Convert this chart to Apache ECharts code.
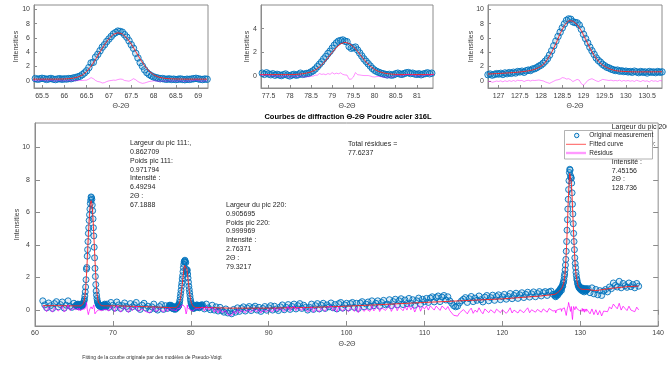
<!DOCTYPE html>
<html><head><meta charset="utf-8">
<script src="https://cdn.jsdelivr.net/npm/echarts@6/dist/echarts.min.js"></script>
<style>html,body{margin:0;padding:0;background:#fff}#c{width:667px;height:367px}</style>
</head><body><div id="c"></div>
<script>
// ---------- DATA ----------
const FINE_STEP = 0.05, FIT_STEP = 0.1, BG_STEP = 0.25;
const P1_X0 = 65.30, P2_X0 = 77.30, P3_X0 = 126.75;
const BG_A_X0 = 61.00, BG_B_X0 = 69.25, BG_C_X0 = 81.50, BG_D_X0 = 131.00;

const peak1Meas = [0.25,0.32,0.22,0.28,0.35,0.30,0.20,0.27,0.33,0.24,
0.18,0.26,0.30,0.22,0.28,0.25,0.32,0.30,0.40,0.45,
0.55,0.65,0.85,1.10,1.40,1.85,2.50,2.60,3.30,3.70,
4.20,4.70,5.05,5.50,5.85,6.20,6.55,6.75,6.95,6.90,
6.80,6.45,6.10,5.60,5.05,4.55,3.85,3.20,2.55,2.05,
1.55,1.15,0.90,0.70,0.55,0.45,0.38,0.30,0.32,0.25,
0.22,0.28,0.20,0.24,0.18,0.22,0.27,0.20,0.16,0.23,
0.20,0.25,0.30,0.35,0.28,0.22,0.18,0.26,0.22];
const peak1Fit = [0.24,0.24,0.24,0.24,0.24,0.24,0.25,0.26,0.30,0.38,
0.52,0.80,1.30,2.05,3.00,4.05,5.05,5.90,6.50,6.72,
6.55,6.00,5.15,4.10,3.05,2.10,1.35,0.85,0.55,0.40,
0.32,0.28,0.26,0.25,0.24,0.24,0.24,0.24,0.24,0.24];
const peak1Res = [0.01,0.08,-0.02,0.04,0.11,0.06,-0.04,0.03,0.09,0.00,
-0.06,0.02,0.05,-0.03,0.02,-0.01,0.04,0.00,0.04,0.02,
0.03,0.05,0.05,0.08,0.10,0.25,0.45,0.30,0.05,-0.10,
-0.15,-0.30,-0.25,-0.10,0.00,0.05,0.10,0.08,0.18,0.25,
0.22,0.05,0.00,-0.05,0.10,0.30,0.15,-0.10,-0.25,-0.35,
-0.30,-0.20,-0.10,-0.05,0.00,-0.02,-0.05,-0.08,0.00,-0.03,
-0.06,0.03,-0.04,0.00,-0.06,-0.02,0.03,-0.04,-0.08,-0.01,
-0.04,0.01,0.06,0.11,0.04,-0.02,-0.06,0.02,-0.02];

const peak2Meas = [0.20,0.25,0.15,0.28,0.18,0.12,0.20,0.08,0.15,0.10,
0.05,0.12,0.18,0.08,0.02,0.10,0.15,0.08,0.12,0.25,
0.15,0.18,0.22,0.25,0.35,0.45,0.60,0.80,1.00,1.20,
1.45,1.65,1.90,2.10,2.35,2.60,2.80,2.95,3.00,3.05,
2.95,2.90,2.50,2.35,2.40,2.45,2.20,1.95,1.70,1.45,
1.25,1.05,0.85,0.65,0.50,0.40,0.32,0.25,0.20,0.15,
0.10,0.15,0.08,0.12,0.20,0.25,0.18,0.15,0.22,0.28,
0.30,0.22,0.25,0.18,0.15,0.20,0.12,0.18,0.22,0.28,
0.20,0.25,0.30];
const peak2Fit = [0.13,0.13,0.13,0.13,0.13,0.13,0.13,0.13,0.14,0.16,
0.20,0.26,0.36,0.52,0.78,1.12,1.55,2.00,2.42,2.73,
2.85,2.76,2.48,2.08,1.63,1.20,0.84,0.57,0.39,0.28,
0.21,0.17,0.15,0.14,0.14,0.14,0.14,0.14,0.14,0.14,
0.14,0.14];
const peak2Res = [0.07,0.12,0.02,0.15,0.05,-0.01,0.07,-0.05,0.02,-0.03,
-0.08,-0.01,0.05,-0.05,-0.11,-0.03,0.01,-0.07,-0.04,0.07,
-0.05,-0.08,-0.04,-0.06,-0.01,0.00,0.08,0.08,0.22,0.15,
0.18,0.12,0.22,0.15,0.30,0.18,0.25,0.20,0.28,0.15,
0.10,0.09,-0.26,-0.25,-0.08,0.30,0.12,0.10,0.07,0.05,
0.05,0.05,0.01,-0.05,-0.07,-0.04,-0.02,-0.05,-0.08,-0.09,
-0.11,-0.05,-0.09,-0.03,0.05,0.11,0.04,0.01,0.08,0.14,
0.16,0.08,0.11,0.04,0.01,0.06,-0.02,0.04,0.08,0.14,
0.06,0.11,0.16];

const peak3Meas = [0.85,0.95,0.80,0.90,1.00,0.95,1.05,0.90,1.10,1.00,
1.15,1.05,1.20,1.10,1.30,1.25,1.35,1.20,1.40,1.50,
1.45,1.65,1.70,1.85,2.05,2.20,2.45,2.75,3.10,3.60,
4.20,4.90,5.55,6.20,6.80,7.40,7.95,8.45,8.65,8.60,
8.25,8.15,8.10,7.80,7.20,6.50,5.90,5.30,4.70,4.20,
3.70,3.20,2.85,2.60,2.30,2.10,1.90,1.80,1.65,1.55,
1.45,1.50,1.35,1.40,1.30,1.35,1.25,1.30,1.20,1.35,
1.25,1.15,1.30,1.20,1.25,1.10,1.30,1.20,1.25,1.15,
1.30,1.20,1.25];
const peak3Fit = [0.95,0.98,1.01,1.04,1.08,1.12,1.16,1.21,1.27,1.35,
1.45,1.60,1.85,2.25,3.00,4.00,5.20,6.60,7.75,8.40,
8.35,7.85,7.00,5.80,4.60,3.55,2.75,2.20,1.85,1.60,
1.43,1.36,1.31,1.28,1.26,1.25,1.25,1.25,1.25,1.26,
1.26,1.27];
const peak3Res = [-0.10,-0.05,-0.20,-0.12,-0.03,-0.08,0.00,-0.14,0.02,-0.10,
0.03,-0.07,0.04,-0.06,0.09,0.02,0.06,-0.10,0.03,0.08,
-0.02,0.08,0.05,0.08,0.12,0.05,0.00,-0.15,-0.25,-0.35,
-0.20,-0.05,0.10,0.15,0.25,0.45,0.40,0.25,0.30,0.15,
-0.10,0.05,0.20,0.10,-0.40,-0.60,-0.30,0.05,0.20,0.30,
0.15,0.00,-0.10,0.05,0.20,0.15,0.10,0.05,0.10,0.00,
0.05,0.00,0.10,-0.05,0.05,-0.03,0.05,-0.05,0.02,-0.08,
0.08,-0.02,-0.10,0.05,-0.06,0.00,-0.15,0.05,-0.05,0.00,
-0.10,0.05,-0.02];

const bgAMeas = [0.55,0.30,0.12,0.42,0.25,0.08,0.38,0.50,0.18,0.32,0.48,0.10,0.28,0.55,0.22,0.15,0.40,0.25];
const bgARes  = [0.25,0.02,-0.12,0.15,-0.02,-0.15,0.12,0.22,-0.08,0.05,0.20,-0.14,0.00,0.28,-0.05,-0.10,0.13,-0.02];
const bgBMeas = [0.35,0.15,0.45,0.28,0.10,0.48,0.30,0.08,0.25,0.42,
0.20,0.05,0.38,0.18,0.30,0.45,0.12,0.02,0.28,0.40,
0.10,0.22,0.00,0.18,0.35,0.05,-0.02,0.20,0.32,0.02,
0.25,0.08,0.28];
const bgBRes = [0.10,-0.08,0.20,0.05,-0.12,0.24,0.06,-0.15,0.02,0.18,
-0.03,-0.17,0.15,-0.05,0.08,0.22,-0.10,-0.20,0.06,0.18,
-0.12,0.00,-0.20,-0.02,0.15,-0.12,-0.18,0.04,0.16,-0.14,
0.08,-0.10,0.12];
const bgCMeas = [0.30,0.05,0.35,0.12,0.00,0.28,-0.02,0.18,-0.08,0.15,-0.05,-0.15,0.05,-0.20,-0.08,
-0.25,0.02,-0.15,0.12,-0.10,0.08,0.18,-0.08,0.10,0.20,-0.05,0.12,0.22,-0.02,0.15,-0.10,0.08,0.20,-0.03,0.12,
0.25,-0.02,0.22,0.05,-0.05,0.18,0.30,0.00,0.15,0.32,0.02,0.20,0.35,0.05,0.25,0.38,0.08,0.28,0.15,-0.02,
0.15,0.35,0.02,0.25,0.38,0.05,0.28,0.40,0.08,0.30,0.18,0.42,0.12,0.32,0.05,0.38,0.45,0.10,0.30,0.40,
0.12,0.38,0.45,0.15,0.40,0.08,0.42,0.50,0.18,0.35,0.48,0.20,0.55,0.25,0.40,0.55,0.22,0.45,0.58,0.30,
0.35,0.62,0.25,0.50,0.65,0.30,0.55,0.68,0.32,0.60,0.38,0.70,0.40,0.62,0.28,0.55,0.72,0.35,0.65,0.50,
0.70,0.45,0.72,0.80,0.48,0.75,0.85,0.50,0.78,0.88,0.60,0.80,0.55,0.40,0.25,0.18,0.22,0.42,0.55,0.65,
0.75,0.45,0.68,0.82,0.50,0.72,0.58,0.85,0.62,0.48,0.78,0.88,0.55,0.75,0.90,0.58,0.82,0.92,0.62,0.80,
0.95,0.65,0.82,1.00,0.68,0.88,1.02,0.70,0.92,1.05,0.75,0.95,1.08,0.78,0.98,1.10,0.80,1.00,1.12,0.85,
1.05,1.12,0.88,1.10,1.15,0.95];
const bgCRes = [0.17,-0.08,0.22,-0.01,-0.13,0.15,-0.14,0.06,-0.20,0.04,-0.16,-0.25,-0.05,-0.30,-0.18,
-0.35,-0.08,-0.25,0.02,-0.20,-0.02,0.08,-0.18,0.00,0.10,-0.15,0.02,0.12,-0.12,0.05,-0.20,-0.02,0.10,-0.13,0.02,
0.14,-0.13,0.11,-0.06,-0.16,0.07,0.19,-0.11,0.04,0.21,-0.09,0.09,0.24,-0.06,0.14,0.26,-0.04,0.16,0.03,-0.14,
-0.01,0.18,-0.15,0.08,0.20,-0.13,0.10,0.22,-0.10,0.12,0.00,0.24,-0.06,0.13,-0.14,0.18,0.25,-0.10,0.10,0.18,
-0.12,0.14,0.20,-0.10,0.14,-0.18,0.15,0.22,-0.10,0.06,0.18,-0.10,0.24,-0.07,0.08,0.22,-0.11,0.12,0.24,-0.04,
0.01,0.27,-0.10,0.15,0.29,-0.06,0.18,0.30,-0.06,0.21,-0.02,0.30,0.00,0.21,-0.14,0.13,0.29,-0.09,0.20,0.05,
0.24,-0.02,0.24,0.31,-0.02,0.23,0.32,-0.04,0.23,0.32,0.01,0.20,-0.05,-0.20,-0.34,-0.42,-0.39,-0.20,-0.08,0.01,
0.05,-0.25,-0.05,0.10,-0.22,-0.02,-0.15,0.12,-0.10,-0.25,0.05,0.12,-0.18,0.00,0.12,-0.20,0.04,0.12,-0.18,0.00,
0.08,-0.22,-0.08,0.12,-0.20,-0.02,0.10,-0.20,0.00,0.10,-0.18,-0.02,0.12,-0.18,0.00,0.12,-0.15,0.02,0.12,-0.15,
0.05,0.10,-0.15,0.08,0.12,-0.08];
const bgDMeas = [1.30,1.05,1.35,0.98,1.25,0.92,1.18,0.88,1.15,1.25,
1.10,1.40,1.30,1.65,1.50,1.40,1.75,1.35,1.62,1.48,
1.38,1.65,1.42,1.55,1.35,1.62,1.45];
const bgDRes = [-0.05,-0.25,0.05,-0.30,0.00,-0.32,-0.05,-0.38,-0.08,0.02,
-0.12,0.18,0.05,0.35,0.20,0.06,0.40,-0.02,0.22,0.08,
-0.05,0.22,-0.02,0.10,-0.12,0.16,-0.01];

const fitKnotX = [61, 63, 64.5, 70, 72, 74, 76, 82.5, 85, 90, 95, 100, 105, 110, 115, 120, 125, 132, 134, 136, 137.5];
const fitKnotY = [0.25,0.25,0.24,0.24,0.22,0.19,0.16,0.13,0.10,0.10,0.14,0.22,0.33,0.45,0.56,0.67,0.85,1.18,1.32,1.42,1.46];

const mainXTicks = [60,70,80,90,100,110,120,130,140];
const mainYTicks = [0,2,4,6,8,10];
const sub1XTicks = [65.5,66,66.5,67,67.5,68,68.5,69];
const sub2XTicks = [77.5,78,78.5,79,79.5,80,80.5,81];
const sub3XTicks = [127,127.5,128,128.5,129,129.5,130,130.5];
const sub13YTicks = [0,2,4,6,8,10];
const sub2YTicks = [0,2,4];

const titleText = 'Courbes de diffraction \u0398-2\u0398 Poudre acier 316L';
const xName = '\u0398-2\u0398';
const yName = 'Intensities';
const footerText = 'Fitting de la courbe originale par des modèles de Pseudo-Voigt';
const ann111 = ['Largeur du pic 111:,','0.862709','Poids pic 111:','0.971794','Intensité :','6.49294','2\u0398 :','67.1888'];
const ann220 = ['Largeur du pic 220:','0.905695','Poids pic 220:','0.999969','Intensité :','2.76371','2\u0398 :','79.3217'];
const annRes = ['Total résidues =','77.6237'];
const ann200 = ['Largeur du pic 200:','','Poids pic 200:','','Intensité :','7.45156','2\u0398 :','128.736'];
const legendNames = ['Original measurement','Fitted curve','Résidus'];

// ---------- BUILD ----------
function seg(x0, step, vals){ return vals.map((v,i)=>[Math.round((x0+i*step)*1000)/1000, v]); }
const p1M = seg(P1_X0,FINE_STEP,peak1Meas), p1F = seg(P1_X0,FIT_STEP,peak1Fit), p1R = seg(P1_X0,FINE_STEP,peak1Res);
const p2M = seg(P2_X0,FINE_STEP,peak2Meas), p2F = seg(P2_X0,FIT_STEP,peak2Fit), p2R = seg(P2_X0,FINE_STEP,peak2Res);
const p3M = seg(P3_X0,FINE_STEP,peak3Meas), p3F = seg(P3_X0,FIT_STEP,peak3Fit), p3R = seg(P3_X0,FINE_STEP,peak3Res);
const mainMeas = [].concat(seg(BG_A_X0,BG_STEP,bgAMeas), p1M, seg(BG_B_X0,BG_STEP,bgBMeas), p2M, seg(BG_C_X0,BG_STEP,bgCMeas), p3M, seg(BG_D_X0,BG_STEP,bgDMeas));
const mainRes = [].concat(seg(BG_A_X0,BG_STEP,bgARes), p1R, seg(BG_B_X0,BG_STEP,bgBRes), p2R, seg(BG_C_X0,BG_STEP,bgCRes), p3R, seg(BG_D_X0,BG_STEP,bgDRes));
const mainFit = fitKnotX.map((x,i)=>[x,fitKnotY[i]]).concat(p1F,p2F,p3F).sort((a,b)=>a[0]-b[0]);

const FF = '"Liberation Sans", Arial, Helvetica, sans-serif';
const AX = '#8c8c8c';
const LBL = '#404040';
const BLUE = '#0072BD';

function axis(gi, min, max, ticks, margin, tl){
  return {type:'value', gridIndex:gi, min, max,
    axisLine:{show:true, onZero:false, lineStyle:{color:AX, width:1}},
    axisTick:{show:true, inside:true, length:tl, customValues:ticks, lineStyle:{color:AX}},
    axisLabel:{customValues:ticks, margin, fontSize:7, color:LBL, fontFamily:FF},
    splitLine:{show:false}};
}
const gridStyle = {show:true, borderColor:AX, borderWidth:1, backgroundColor:'transparent', containLabel:false};

function trio(idx, meas, fit, res, size, resOpacity, fillA){
  return [
    {name:legendNames[0], type:'scatter', xAxisIndex:idx, yAxisIndex:idx, data:meas, symbol:'circle', symbolSize:size,
      itemStyle:{color:'rgba(0,114,189,'+fillA+')', borderColor:BLUE, borderWidth:1, opacity:0.9}, clip:true, z:2},
    {name:legendNames[1], type:'line', xAxisIndex:idx, yAxisIndex:idx, data:fit, symbol:'none', showSymbol:false,
      lineStyle:{color:'#ff1f1f', width:0.9}, clip:true, z:3},
    {name:legendNames[2], type:'line', xAxisIndex:idx, yAxisIndex:idx, data:res, symbol:'none', showSymbol:false,
      lineStyle:{color:'#ff00ff', width:0.8, opacity:resOpacity}, clip:true, z:4}
  ];
}

function txt(x, y, text, o){
  o = o || {};
  const al = o.align || 'left', va = o.va || 'top';
  return {type:'text', x, y, z: o.z || 50, rotation: o.rot || 0,
    style:{text, fill: o.fill || '#262626', font: (o.weight||'normal')+' '+(o.size||7)+'px '+FF,
      textAlign: al, align: al, textVerticalAlign: va, verticalAlign: va, lineHeight: o.lh || 8.8}};
}

const graphics = [
  txt(348, 117, titleText, {align:'center', va:'middle', weight:'bold', size:7.5, fill:'#000'}),
  txt(347, 344, xName, {align:'center', va:'middle', fill:LBL}),
  txt(121, 106, xName, {align:'center', va:'middle', fill:LBL}),
  txt(347, 106, xName, {align:'center', va:'middle', fill:LBL}),
  txt(575, 106, xName, {align:'center', va:'middle', fill:LBL}),
  txt(17, 224.5, yName, {align:'center', va:'middle', rot:Math.PI/2, fill:LBL}),
  txt(16, 46.5, yName, {align:'center', va:'middle', rot:Math.PI/2, fill:LBL}),
  txt(247, 46.5, yName, {align:'center', va:'middle', rot:Math.PI/2, fill:LBL}),
  txt(471, 46.5, yName, {align:'center', va:'middle', rot:Math.PI/2, fill:LBL}),
  txt(152, 358, footerText, {align:'center', va:'middle', size:5, fill:'#333'}),
  txt(130, 138.9, ann111.join('\n'), {}),
  txt(226, 200.6, ann220.join('\n'), {}),
  txt(348, 139.4, annRes.join('\n'), {lh:9.2}),
  txt(611.7, 122.3, ann200.join('\n'), {}),
  {type:'rect', z:60, shape:{x:564.5, y:130.5, width:88, height:28.5}, style:{fill:'#fff', stroke:'#a0a0a0', lineWidth:0.8}},
  {type:'circle', z:61, shape:{cx:576.7, cy:135.5, r:2.2}, style:{fill:'rgba(0,114,189,0.1)', stroke:BLUE, lineWidth:1}},
  {type:'line', z:61, shape:{x1:566, y1:144.3, x2:586, y2:144.3}, style:{stroke:'#ff3030', lineWidth:0.8}},
  {type:'line', z:61, shape:{x1:566, y1:153, x2:586, y2:153}, style:{stroke:'#ff99ff', lineWidth:2.4}},
  txt(589.3, 135.5, legendNames[0], {va:'middle', size:6.5, z:62}),
  txt(589.3, 144.3, legendNames[1], {va:'middle', size:6.5, z:62}),
  txt(589.3, 153, legendNames[2], {va:'middle', size:6.5, z:62})
];

const option = {
  backgroundColor:'#fff',
  animation:false,
  grid:[
    Object.assign({left:34, top:5, width:174, height:83}, gridStyle),
    Object.assign({left:261, top:5, width:172, height:83}, gridStyle),
    Object.assign({left:488, top:5, width:174, height:83}, gridStyle),
    Object.assign({left:35, top:123, width:626, height:203}, gridStyle)
  ],
  xAxis:[
    axis(0, 65.32, 69.22, sub1XTicks, 5, 3),
    axis(1, 77.32, 81.38, sub2XTicks, 5, 3),
    axis(2, 126.75, 130.85, sub3XTicks, 5, 3),
    axis(3, 60, 140, mainXTicks, 4, 5),
    Object.assign(axis(3, 60, 140, mainXTicks, 4, 5), {position:'top', axisLabel:{show:false}, axisLine:{show:false}})
  ],
  yAxis:[
    axis(0, -1, 10.6, sub13YTicks, 4, 3),
    axis(1, -1, 6, sub2YTicks, 4, 3),
    axis(2, -1, 10.6, sub13YTicks, 4, 3),
    axis(3, -1, 11.5, mainYTicks, 5, 5),
    Object.assign(axis(3, -1, 11.5, mainYTicks, 5, 5), {position:'right', axisLabel:{show:false}, axisLine:{show:false}})
  ],
  series:[].concat(
    trio(0, p1M, p1F, p1R, 6.5, 0.55, 0.2),
    trio(1, p2M, p2F, p2R, 6.5, 0.55, 0.2),
    trio(2, p3M, p3F, p3R, 6.5, 0.55, 0.2),
    trio(3, mainMeas, mainFit, mainRes, 6, 0.9, 0.15)
  ),
  graphic: graphics
};
const chart = echarts.init(document.getElementById('c'), null, {renderer:'canvas'});
chart.setOption(option);
</script></body></html>
